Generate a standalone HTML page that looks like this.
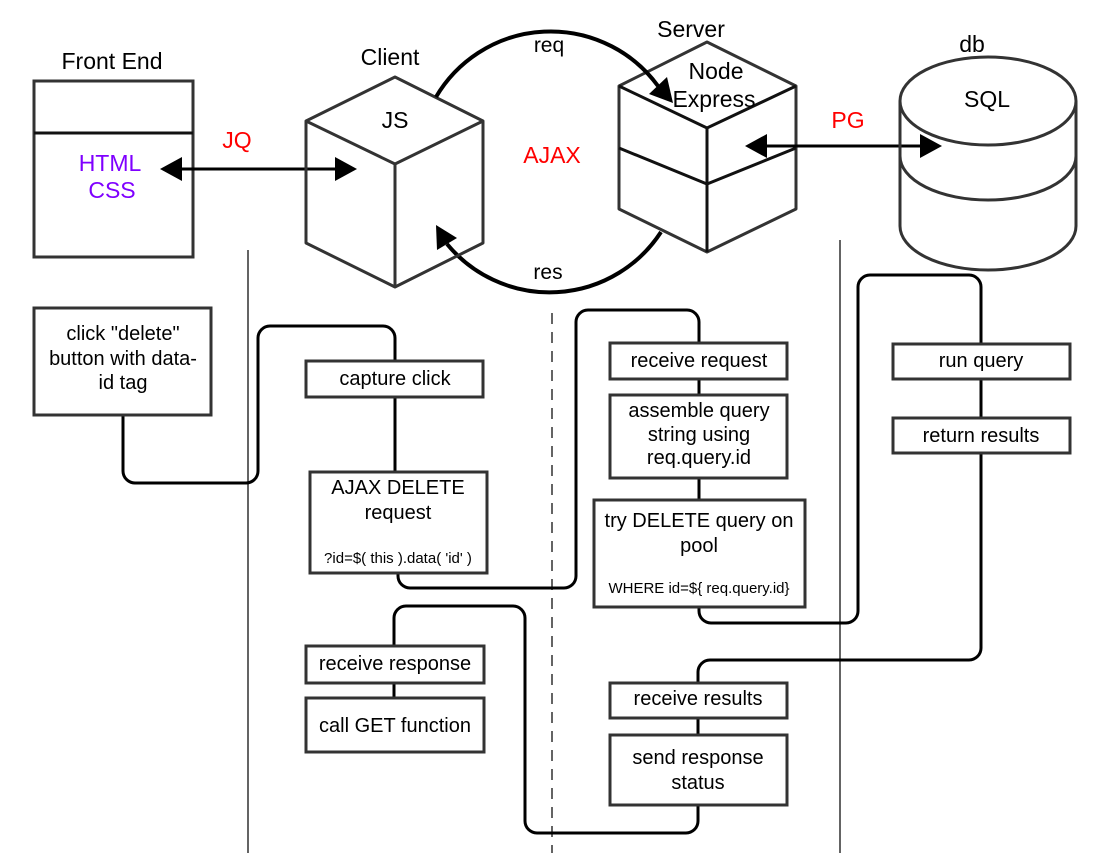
<!DOCTYPE html>
<html><head><meta charset="utf-8"><style>
html,body{margin:0;padding:0;background:#fff;}
svg{display:block;font-family:"Liberation Sans",Arial,sans-serif;}
</style></head><body>
<svg width="1108" height="853" viewBox="0 0 1108 853" xmlns="http://www.w3.org/2000/svg">
<rect width="1108" height="853" fill="#fff"/>
<line x1="248" y1="250" x2="248" y2="853" stroke="#111" stroke-width="1.3"/>
<line x1="552" y1="313" x2="552" y2="853" stroke="#111" stroke-width="1.3" stroke-dasharray="11,8"/>
<line x1="840" y1="240" x2="840" y2="853" stroke="#111" stroke-width="1.3"/>

<text x="112" y="69" font-size="23" text-anchor="middle">Front End</text>
<rect x="34" y="81" width="159" height="176" fill="#fff" stroke="#333" stroke-width="3"/>
<line x1="34" y1="133" x2="193" y2="133" stroke="#111" stroke-width="3"/>
<text x="110" y="171" font-size="23" fill="#7F00FF" text-anchor="middle">HTML</text>
<text x="112" y="198" font-size="23" fill="#7F00FF" text-anchor="middle">CSS</text>

<text x="237" y="148" font-size="23" fill="#f00" text-anchor="middle">JQ</text>
<line x1="178" y1="169" x2="340" y2="169" stroke="#000" stroke-width="3"/>
<polygon points="160,169 182,157 182,181" fill="#000"/>
<polygon points="357,169 335,157 335,181" fill="#000"/>

<path d="M661 232 A133 133 0 0 1 447 244" fill="none" stroke="#000" stroke-width="4"/>

<text x="390" y="65" font-size="23" text-anchor="middle">Client</text>
<g fill="none" stroke="#333" stroke-width="3" stroke-linejoin="round">
<polygon points="395,77 483,121 483,243 395,287 306,243 306,121"/>
<polyline points="306,121 395,164 483,121"/>
<line x1="395" y1="164" x2="395" y2="287"/>
</g>
<text x="395" y="128" font-size="23" text-anchor="middle">JS</text>

<text x="549" y="52" font-size="21" text-anchor="middle">req</text>
<text x="548" y="279" font-size="21" text-anchor="middle">res</text>
<text x="552" y="163" font-size="23" fill="#f00" text-anchor="middle">AJAX</text>

<text x="691" y="37" font-size="23" text-anchor="middle">Server</text>
<g fill="#fff" stroke="#333" stroke-width="3" stroke-linejoin="round">
<polygon points="707,42 796,86 796,209 707,252 619,209 619,86"/>
</g>
<g fill="none" stroke="#111" stroke-width="3">
<polyline points="619,86 707,128 796,86"/>
<line x1="707" y1="128" x2="707" y2="252"/>
<polyline points="619,148 707,184 796,148"/>
</g>
<text x="716" y="79" font-size="23" text-anchor="middle">Node</text>
<text x="714" y="107" font-size="23" text-anchor="middle">Express</text>

<path d="M436 97 A133 133 0 0 1 658 86" fill="none" stroke="#000" stroke-width="4"/>
<polygon points="673,103 649,94 667,77" fill="#000"/>
<polygon points="436,225 457,238 437,250" fill="#000"/>

<text x="848" y="128" font-size="23" fill="#f00" text-anchor="middle">PG</text>
<line x1="762" y1="146" x2="925" y2="146" stroke="#000" stroke-width="3"/>
<polygon points="745,146 767,134 767,158" fill="#000"/>
<polygon points="942,146 920,134 920,158" fill="#000"/>

<text x="972" y="52" font-size="23" text-anchor="middle">db</text>
<g fill="none" stroke="#333" stroke-width="3">
<path d="M900 101 V226 A88 44 0 0 0 1076 226 V101"/>
<ellipse cx="988" cy="101" rx="88" ry="44"/>
<path d="M900 156 A88 44 0 0 0 1076 156"/>
</g>
<text x="987" y="107" font-size="23" text-anchor="middle">SQL</text>

<g fill="none" stroke="#000" stroke-width="3">
<path d="M123 415 V471 A12 12 0 0 0 135 483 H246 A12 12 0 0 0 258 471 V338 A12 12 0 0 1 270 326 H383 A12 12 0 0 1 395 338 V361"/>
<path d="M395 397 V472"/>
<path d="M398 573 V576 A12 12 0 0 0 410 588 H564 A12 12 0 0 0 576 576 V322 A12 12 0 0 1 588 310 H687 A12 12 0 0 1 699 322 V343"/>
<path d="M699 379 V395 M699 478 V500"/>
<path d="M699 607 V611 A12 12 0 0 0 711 623 H846 A12 12 0 0 0 858 611 V287 A12 12 0 0 1 870 275 H969 A12 12 0 0 1 981 287 V344"/>
<path d="M981 379 V418"/>
<path d="M981 453 V648 A12 12 0 0 1 969 660 H710 A12 12 0 0 0 698 672 V683"/>
<path d="M698 718 V735"/>
<path d="M698 805 V821 A12 12 0 0 1 686 833 H537 A12 12 0 0 1 525 821 V618 A12 12 0 0 0 513 606 H406 A12 12 0 0 0 394 618 V646"/>
<path d="M394 683 V698"/>
</g>

<g fill="#fff" stroke="#333" stroke-width="3">
<rect x="34" y="308" width="177" height="107"/>
<rect x="306" y="361" width="177" height="36"/>
<rect x="310" y="472" width="177" height="101"/>
<rect x="610" y="343" width="177" height="36"/>
<rect x="610" y="395" width="177" height="83"/>
<rect x="594" y="500" width="211" height="107"/>
<rect x="893" y="344" width="177" height="35"/>
<rect x="893" y="418" width="177" height="35"/>
<rect x="306" y="646" width="178" height="37"/>
<rect x="306" y="698" width="178" height="54"/>
<rect x="610" y="683" width="177" height="35"/>
<rect x="610" y="735" width="177" height="70"/>
</g>
<g font-size="20" text-anchor="middle" fill="#000">
<text x="123" y="340">click "delete"</text>
<text x="123" y="365">button with data-</text>
<text x="123" y="389">id tag</text>
<text x="395" y="385">capture click</text>
<text x="398" y="494">AJAX DELETE</text>
<text x="398" y="519">request</text>
<text x="398" y="563" font-size="15">?id=$( this ).data( 'id' )</text>
<text x="699" y="367">receive request</text>
<text x="699" y="417">assemble query</text>
<text x="699" y="441">string using</text>
<text x="699" y="464">req.query.id</text>
<text x="699" y="527">try DELETE query on</text>
<text x="699" y="552">pool</text>
<text x="699" y="593" font-size="15">WHERE id=${ req.query.id}</text>
<text x="981" y="367">run query</text>
<text x="981" y="442">return results</text>
<text x="395" y="670">receive response</text>
<text x="395" y="732">call GET function</text>
<text x="698" y="705">receive results</text>
<text x="698" y="764">send response</text>
<text x="698" y="789">status</text>
</g>
</svg>
</body></html>
